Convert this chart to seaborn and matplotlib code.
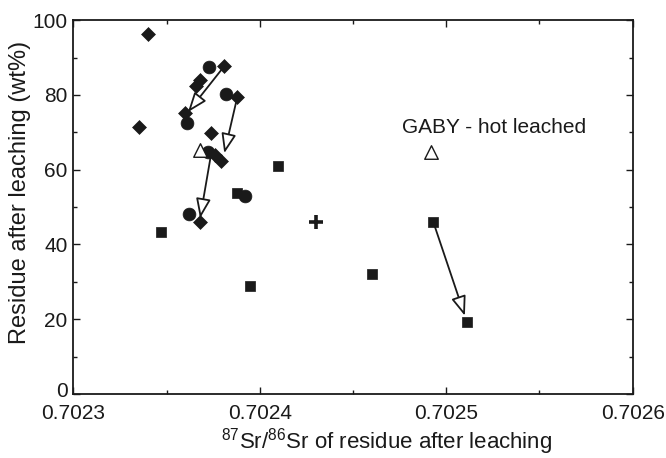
import matplotlib
matplotlib.use("Agg")
import matplotlib.pyplot as plt
import matplotlib.transforms as mtransforms
import seaborn as sns
import pandas as pd
from matplotlib.ticker import MultipleLocator, FixedLocator

# ---- data ----
diamond_x = [0.702340, 0.702335, 0.702381, 0.702366, 0.702368, 0.702360,
             0.702388, 0.702374, 0.702376, 0.702379, 0.702368]
diamond_y = [96.4, 71.5, 87.7, 82.4, 84.1, 75.1, 79.5, 69.8, 63.9, 62.3, 46.1]

circle_x = [0.702373, 0.702361, 0.702382, 0.702372, 0.702362, 0.702392]
circle_y = [87.5, 72.5, 80.2, 64.7, 48.1, 52.9]

square_x = [0.702388, 0.702410, 0.702347, 0.702395, 0.702460, 0.702493, 0.702511]
square_y = [53.8, 61.0, 43.2, 28.9, 32.1, 46.1, 19.1]

plus_x = [0.702430]
plus_y = [45.9]

open_tri_x = [0.702368, 0.702492]
open_tri_y = [65.2, 64.8]

arrow_x0 = [0.702381, 0.702388, 0.702374, 0.702493]
arrow_y0 = [87.7, 79.5, 64.4, 46.1]
arrow_x1 = [0.7023615, 0.702381, 0.702368, 0.702510]
arrow_y1 = [75.4, 64.4, 47.0, 20.9]

x_ticks = [0.7023, 0.7024, 0.7025, 0.7026]
x_tick_labels = ["0.7023", "0.7024", "0.7025", "0.7026"]
y_ticks = [0, 20, 40, 60, 80, 100]

annotation_text = "GABY - hot leached"
annotation_xy = (0.7024765, 71.4)

# ---- style ----
sns.set_theme(style="white")
plt.rcParams["font.family"] = ["Liberation Sans", "DejaVu Sans"]
plt.rcParams["mathtext.default"] = "regular"

INK = "#1a1a1a"
fig = plt.figure(figsize=(6.66, 4.58), dpi=100)
ax = fig.add_axes([0.110, 0.140, 0.840, 0.816])

df_d = pd.DataFrame({"x": diamond_x, "y": diamond_y})
df_c = pd.DataFrame({"x": circle_x, "y": circle_y})
df_s = pd.DataFrame({"x": square_x, "y": square_y})
df_p = pd.DataFrame({"x": plus_x, "y": plus_y})
df_t = pd.DataFrame({"x": open_tri_x, "y": open_tri_y})

sns.scatterplot(data=df_d, x="x", y="y", marker="D", s=50, color=INK,
                edgecolor=INK, linewidth=0.5, ax=ax, zorder=3)
sns.scatterplot(data=df_c, x="x", y="y", marker="o", s=85, color=INK,
                edgecolor=INK, linewidth=0.5, ax=ax, zorder=3)
sns.scatterplot(data=df_s, x="x", y="y", marker="s", s=52, color=INK,
                edgecolor=INK, linewidth=0.5, ax=ax, zorder=3)
sns.scatterplot(data=df_p, x="x", y="y", marker="+", s=95, color=INK,
                linewidth=2.6, ax=ax, zorder=3)
sns.scatterplot(data=df_t, x="x", y="y", marker="^", s=95, facecolor="white",
                edgecolor=INK, linewidth=1.0, ax=ax, zorder=3)

for x0, y0, x1, y1 in zip(arrow_x0, arrow_y0, arrow_x1, arrow_y1):
    ax.annotate("", xy=(x1, y1), xytext=(x0, y0),
                arrowprops=dict(arrowstyle="-|>,head_length=0.8,head_width=0.3",
                                mutation_scale=15, fc="white", ec=INK,
                                lw=1.3, shrinkA=0, shrinkB=0),
                zorder=4)

ax.text(annotation_xy[0], annotation_xy[1], annotation_text, fontsize=15,
        ha="left", va="center", color=INK)

ax.set_xlim(0.7023, 0.7026)
ax.set_ylim(0, 100)
ax.xaxis.set_major_locator(FixedLocator(x_ticks))
ax.set_xticklabels(x_tick_labels)
ax.xaxis.set_minor_locator(MultipleLocator(0.00005))
ax.yaxis.set_major_locator(FixedLocator(y_ticks))
ax.yaxis.set_minor_locator(MultipleLocator(10))

ax.tick_params(which="both", direction="in", top=True, right=True,
               bottom=True, left=True, color=INK, width=1.0)
ax.tick_params(which="major", length=5, labelsize=15, labelcolor=INK)
ax.tick_params(axis="x", which="major", pad=7)
ax.tick_params(axis="y", which="major", pad=4)
ax.tick_params(which="minor", length=3)
for sp in ax.spines.values():
    sp.set_color(INK)
    sp.set_linewidth(1.3)

# raise the "0" y tick label slightly so it clears the first x tick label
zero_lbl = ax.get_yticklabels()[0]
zero_lbl.set_transform(zero_lbl.get_transform() +
                       mtransforms.ScaledTranslation(0, 3 / 72, fig.dpi_scale_trans))

ax.set_xlabel(r"$^{87}$Sr/$^{86}$Sr of residue after leaching", fontsize=16,
              color=INK)
ax.xaxis.set_label_coords(0.56, -0.086)
ax.set_ylabel("Residue after leaching (wt%)", fontsize=17, color=INK)
ax.yaxis.set_label_coords(-0.075, 0.54)

fig.savefig("out.png", dpi=100)
